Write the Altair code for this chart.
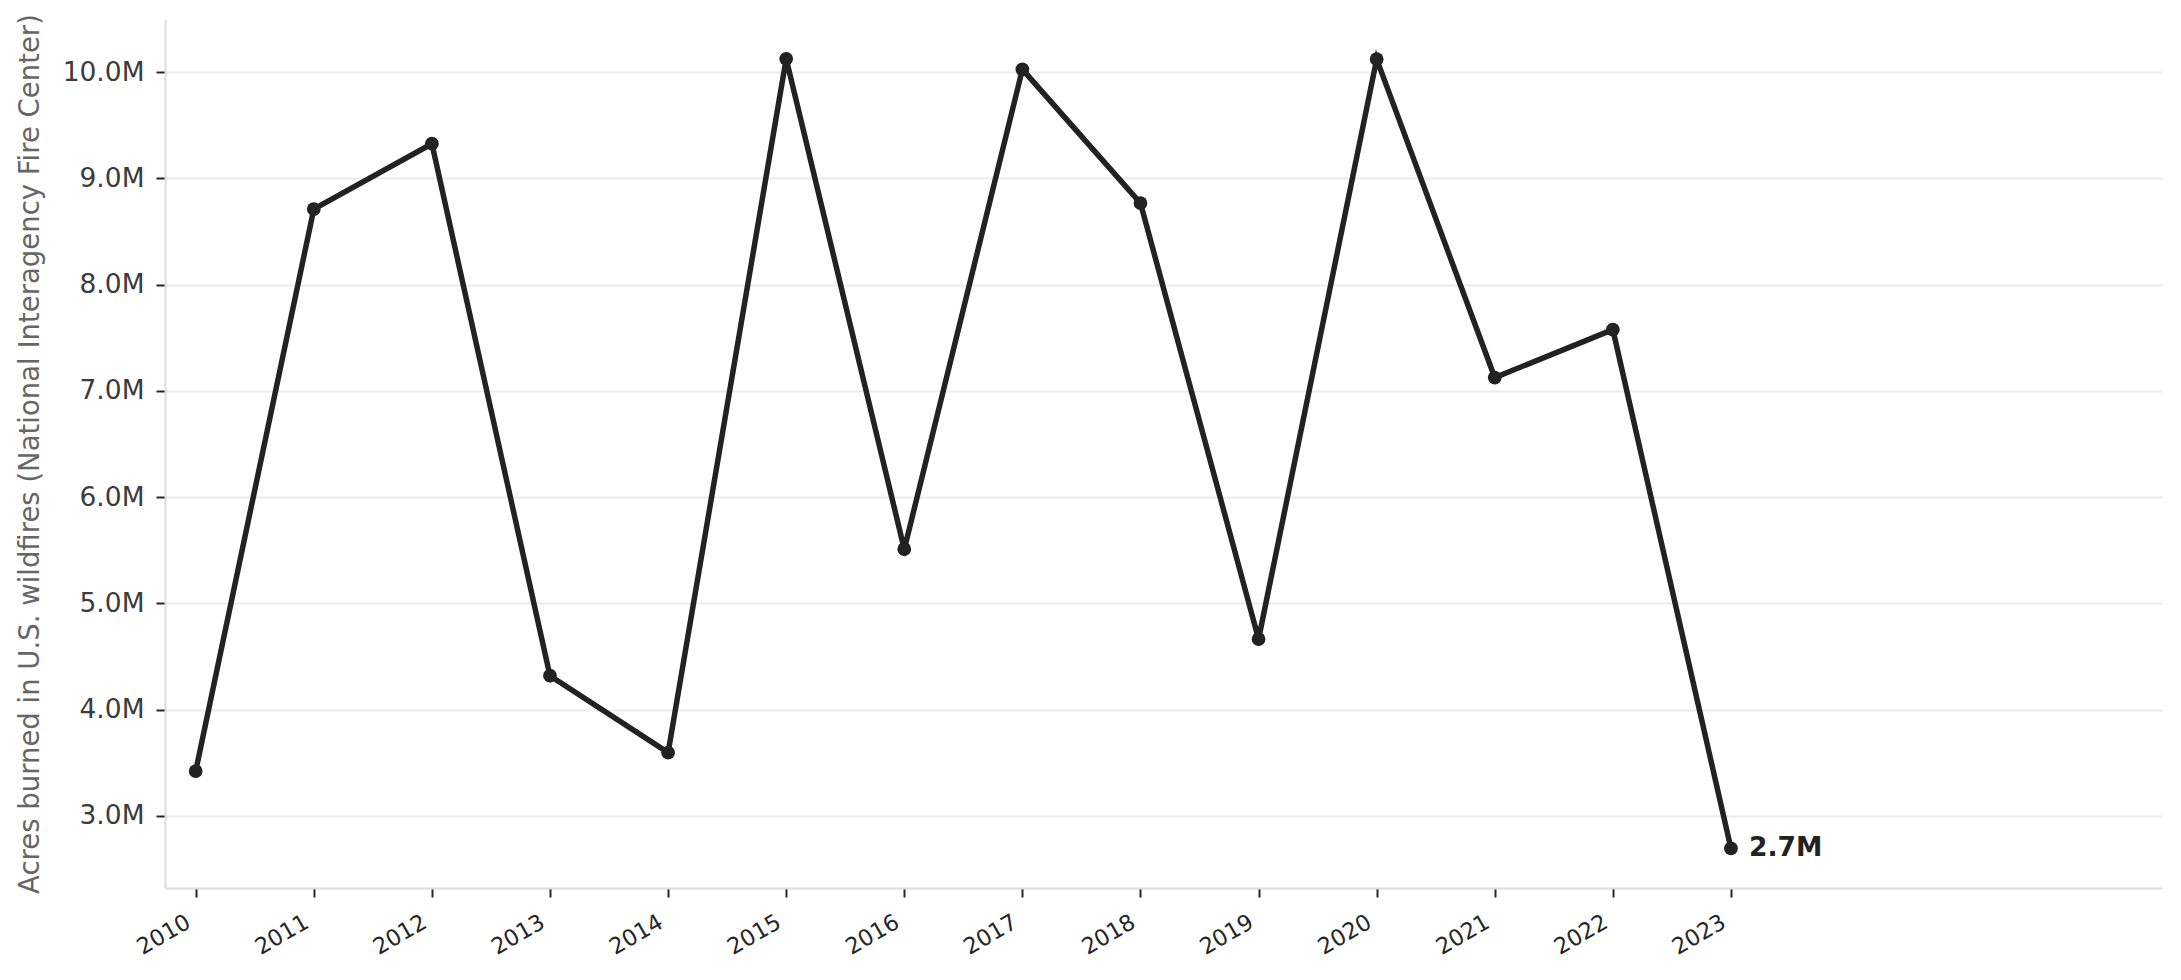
import altair as alt
import pandas as pd

years = [2010, 2011, 2012, 2013, 2014, 2015, 2016, 2017, 2018, 2019, 2020, 2021, 2022, 2023]
acres = [3422724, 8711367, 9326238, 4319546, 3595613, 10125149, 5509995,
         10026086, 8767492, 4664364, 10122336, 7125643, 7577183, 2693910]
last_label = ["", "", "", "", "", "", "", "", "", "", "", "", "", "2.7M"]
y_ticks = [3e6, 4e6, 5e6, 6e6, 7e6, 8e6, 9e6, 10e6]

df = pd.DataFrame({"year": years, "acres": acres, "label": last_label})

x = alt.X("year:Q",
          scale=alt.Scale(domain=[2009.74, 2026.65], nice=False, zero=False),
          axis=alt.Axis(values=years, format="d", title=None, grid=False,
                        labelAngle=-30, labelAlign="right", labelBaseline="alphabetic",
                        labelFontSize=22.5, labelColor="#262626", labelFont="DejaVu Sans",
                        labelPadding=29, labelOffset=-4,
                        tickColor="#262626", tickSize=9, tickWidth=2,
                        domainColor="#dcdcdc", domainWidth=2))
y = alt.Y("acres:Q",
          scale=alt.Scale(domain=[2.322e6, 10.5e6], nice=False, zero=False),
          axis=alt.Axis(values=y_ticks,
                        labelExpr="format(datum.value / 1000000, '.1f') + 'M'",
                        title="Acres burned in U.S. wildfires (National Interagency Fire Center)",
                        titleFontSize=27.5, titleColor="#666666", titleFontWeight="normal",
                        titleFont="DejaVu Sans", titlePadding=18,
                        labelFontSize=26.5, labelColor="#3c3c3c", labelFont="DejaVu Sans",
                        labelPadding=12, tickColor="#262626", tickSize=9, tickWidth=2,
                        grid=True, gridColor="#ebebeb", gridWidth=2,
                        domainColor="#dcdcdc", domainWidth=2))

base = alt.Chart(df)
line = base.mark_line(color="#222222", strokeWidth=5.5).encode(x=x, y=y)
pts = base.mark_circle(color="#222222", size=190, opacity=1).encode(x=x, y=y)
txt = base.mark_text(align="left", baseline="middle", dx=18, fontSize=26.5,
                     fontWeight="bold", font="DejaVu Sans", color="#222222").encode(
    x=x, y=y, text="label:N")

chart = (line + pts + txt).properties(
    width=1997, height=869,
    background="white",
    autosize=alt.AutoSizeParams(type="none"),
    padding={"left": 157, "top": 11, "right": 11, "bottom": 80},
).configure_view(stroke=None)

chart.save("out.html", embed_options={"renderer": "svg", "actions": False})
